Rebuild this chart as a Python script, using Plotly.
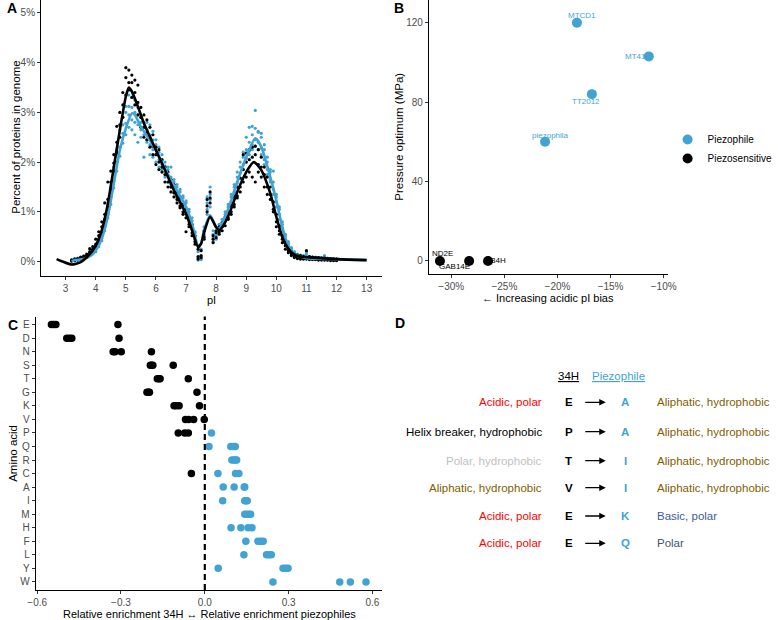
import plotly.graph_objects as go

FONT = "Liberation Sans, Arial, sans-serif"
BLUE = "#41A3D3"
W, H = 778, 620

# ---------------- Panel A data ----------------
pi_bins = [3.2, 3.3, 3.4, 3.5, 3.6, 3.7, 3.8, 3.9, 4.0, 4.1,
           4.2, 4.3, 4.4, 4.5, 4.6, 4.7, 4.8, 4.9, 5.0, 5.1,
           5.2, 5.3, 5.4, 5.5, 5.6, 5.7, 5.8, 5.9, 6.0, 6.1,
           6.2, 6.3, 6.4, 6.5, 6.6, 6.7, 6.8, 6.9, 7.0, 7.1,
           7.2, 7.3, 7.4, 7.5, 7.6, 7.7, 7.8, 7.9, 8.0, 8.1,
           8.2, 8.3, 8.4, 8.5, 8.6, 8.7, 8.8, 8.9, 9.0, 9.1,
           9.2, 9.3, 9.4, 9.5, 9.6, 9.7, 9.8, 9.9, 10.0, 10.1,
           10.2, 10.3, 10.4, 10.5, 10.6, 10.7, 10.8, 10.9, 11.0, 11.1,
           11.2, 11.3, 11.4, 11.5, 11.6, 11.7, 11.8, 11.9, 12.0]

# per-genome values in hundredths of a percent
sens_1 = [2, 3, 4, 7, 8, 12, 20, 25, 45, 60,
          80, 118, 160, 182, 215, 272, 300, 340, 390, 385,
          375, 365, 355, 310, 295, 285, 270, 255, 230, 225,
          205, 190, 180, 165, 155, 140, 130, 115, 105, 90,
          75, 52, 25, 22, 50, 125, 140, 45, 48, 55,
          70, 85, 98, 112, 130, 150, 168, 215, 218, 225,
          230, 232, 225, 210, 190, 170, 150, 120, 95, 72,
          52, 40, 28, 20, 15, 13, 12, 10, 22, 10,
          9, 8, 8, 7, 7, 6, 6, 5, 5]
sens_2 = [1, 2, 6, 5, 11, 9, 17, 30, 35, 52,
          70, 95, 125, 160, 198, 240, 275, 315, 370, 360,
          360, 340, 320, 290, 270, 260, 250, 232, 215, 200,
          190, 175, 160, 150, 138, 125, 112, 100, 88, 75,
          58, 40, 10, 12, 45, 112, 128, 38, 58, 60,
          62, 72, 88, 100, 115, 132, 150, 185, 200, 205,
          210, 215, 195, 190, 175, 150, 135, 105, 80, 62,
          45, 32, 22, 15, 10, 8, 7, 6, 8, 6,
          6, 5, 5, 5, 4, 4, 4, 3, 3]
sens_3 = [3, 5, 3, 9, 6, 15, 26, 20, 30, 45,
          58, 85, 110, 145, 182, 220, 250, 290, 335, 345,
          330, 315, 295, 270, 250, 245, 230, 215, 195, 185,
          180, 160, 150, 140, 130, 118, 108, 95, 60, 70,
          52, 35, 5, 8, 62, 100, 118, 52, 62, 70,
          78, 90, 85, 95, 110, 128, 140, 160, 170, 180,
          170, 160, 180, 170, 150, 135, 125, 100, 70, 55,
          38, 25, 18, 12, 8, 6, 5, 5, 5, 4,
          4, 4, 3, 3, 3, 3, 2, 2, 2]
piezo_1 = [3, 4, 7, 6, 9, 10, 14, 18, 25, 35,
           48, 70, 95, 128, 162, 200, 230, 258, 278, 295,
           310, 300, 275, 280, 270, 265, 255, 245, 235, 220,
           205, 192, 185, 170, 160, 150, 140, 128, 118, 100,
           82, 58, 20, 25, 55, 130, 150, 55, 45, 58,
           72, 88, 102, 120, 140, 158, 178, 195, 208, 222,
           235, 245, 240, 228, 205, 185, 165, 145, 120, 95,
           68, 45, 30, 20, 14, 11, 9, 8, 15, 8,
           7, 7, 6, 6, 5, 5, 5, 5, 4]
piezo_2 = [2, 6, 5, 8, 7, 12, 18, 22, 30, 42,
           55, 78, 105, 140, 178, 215, 250, 275, 300, 312,
           285, 280, 295, 265, 255, 245, 235, 225, 215, 205,
           195, 180, 170, 155, 148, 135, 125, 112, 100, 88,
           70, 45, 5, 10, 48, 118, 135, 40, 52, 62,
           80, 95, 110, 130, 150, 170, 190, 210, 225, 240,
           255, 268, 262, 250, 225, 200, 180, 160, 130, 105,
           75, 52, 36, 25, 18, 14, 12, 11, 10, 10,
           9, 8, 8, 7, 12, 6, 6, 6, 5]
piezo_3 = [1, 3, 4, 5, 6, 9, 13, 16, 20, 30,
           42, 62, 88, 115, 148, 182, 212, 238, 255, 270,
           265, 255, 240, 250, 210, 240, 215, 210, 200, 190,
           185, 170, 160, 150, 140, 130, 120, 108, 95, 80,
           65, 40, 3, 6, 70, 105, 125, 48, 60, 70,
           70, 85, 98, 115, 132, 150, 168, 185, 200, 215,
           225, 232, 225, 215, 195, 175, 160, 135, 110, 85,
           60, 40, 28, 18, 12, 9, 8, 7, 6, 5,
           5, 5, 4, 4, 4, 3, 3, 3, 3]
piezo_4 = [4, 5, 6, 7, 10, 11, 16, 20, 28, 38,
           52, 85, 112, 150, 190, 225, 265, 290, 312, 335,
           330, 325, 310, 290, 280, 280, 275, 262, 245, 230,
           215, 200, 190, 190, 165, 155, 145, 132, 122, 105,
           88, 60, 8, 4, 60, 95, 110, 62, 58, 75,
           85, 100, 115, 135, 155, 180, 200, 220, 250, 270,
           272, 304, 260, 258, 235, 210, 185, 182, 135, 110,
           80, 55, 40, 28, 20, 15, 13, 12, 20, 9,
           8, 9, 7, 8, 10, 7, 6, 6, 5]

# smoothed fits (percent)
sens_fit_x = [2.7, 2.9, 3.2, 3.5, 3.8, 4.0, 4.2, 4.4, 4.6, 4.8, 5.0, 5.1, 5.2, 5.4, 5.6, 5.8,
              6.0, 6.3, 6.6, 7.0, 7.2, 7.4, 7.5, 7.6, 7.8, 8.0, 8.1, 8.3, 8.5, 8.7, 9.0,
              9.25, 9.5, 9.8, 10.0, 10.2, 10.4, 10.6, 10.8, 11.0, 12.0, 13.0]
sens_fit_y = [0.05, 0.0, -0.06, -0.01, 0.15, 0.32, 0.63, 1.16, 1.9, 2.64, 3.32, 3.5, 3.42, 3.12, 2.78, 2.51,
              2.24, 1.84, 1.43, 0.96, 0.63, 0.29, 0.36, 0.59, 0.9, 0.69, 0.63, 0.79, 1.06, 1.4, 1.8,
              2.0, 1.84, 1.37, 0.9, 0.49, 0.26, 0.14, 0.1, 0.09, 0.05, 0.03]
piezo_fit_x = [3.2, 3.3, 3.6, 3.9, 4.0, 4.2, 4.4, 4.6, 4.8, 5.0, 5.2, 5.3, 5.5, 5.8, 6.0, 6.3, 6.6,
               7.0, 7.2, 7.4, 7.5, 7.6, 7.8, 8.0, 8.1, 8.3, 8.5, 8.7, 9.0, 9.3, 9.5, 9.8,
               10.0, 10.2, 10.4, 10.6, 10.8, 11.0, 12.0, 13.0]
piezo_fit_y = [0.0, 0.03, 0.05, 0.15, 0.22, 0.46, 0.9, 1.57, 2.24, 2.68, 2.98, 2.95, 2.71, 2.44, 2.24, 1.87, 1.53,
               1.1, 0.76, 0.32, 0.36, 0.63, 0.93, 0.69, 0.66, 0.9, 1.23, 1.6, 2.1, 2.48, 2.31, 1.7,
               1.23, 0.69, 0.32, 0.15, 0.1, 0.07, 0.05, 0.03]

pi_ticks = [3, 4, 5, 6, 7, 8, 9, 10, 11, 12, 13]
pct_ticks = [0, 1, 2, 3, 4, 5]
pct_labels = ["0%", "1%", "2%", "3%", "4%", "5%"]

# ---------------- Panel B data ----------------
strains = ["MTCD1", "MT41", "TT2012", "piezophila", "ND2E", "GAB14E", "34H"]
acidic_bias = [-18.17, -11.4, -16.76, -21.17, -31.07, -28.32, -26.54]
pressure_opt = [120, 103, 84, 60, 0, 0, 0]
strain_group = ["Piezophile"] * 4 + ["Piezosensitive"] * 3
bias_ticks = [-30, -25, -20, -15, -10]
bias_labels = ["\u221230%", "\u221225%", "\u221220%", "\u221215%", "\u221210%"]
press_ticks = [0, 40, 80, 120]

# ---------------- Panel C data ----------------
amino_acids = ["E", "D", "N", "S", "T", "G", "K", "V", "P", "Q",
               "R", "C", "A", "I", "M", "H", "F", "L", "Y", "W"]
enrichment = {
    "E": [-0.549, -0.541, -0.533, -0.311],
    "D": [-0.494, -0.485, -0.476, -0.307],
    "N": [-0.328, -0.321, -0.299, -0.191],
    "S": [-0.195, -0.190, -0.186, -0.113],
    "T": [-0.170, -0.164, -0.160, -0.059],
    "G": [-0.207, -0.201, -0.198, -0.028],
    "K": [-0.110, -0.103, -0.092, -0.019],
    "V": [-0.069, -0.058, -0.040, -0.002],
    "P": [-0.095, -0.072, -0.059, 0.024],
    "Q": [0.015, 0.093, 0.102, 0.109],
    "R": [0.097, 0.104, 0.110, 0.114],
    "C": [-0.048, 0.047, 0.110, 0.122],
    "A": [0.066, 0.105, 0.141, 0.143],
    "I": [0.064, 0.143, 0.148, 0.152],
    "M": [0.143, 0.150, 0.158, 0.164],
    "H": [0.094, 0.129, 0.155, 0.169],
    "F": [0.147, 0.190, 0.200, 0.209],
    "L": [0.140, 0.221, 0.230, 0.238],
    "Y": [0.048, 0.280, 0.290, 0.298],
    "W": [0.244, 0.483, 0.521, 0.577],
}
enr_ticks = [-0.6, -0.3, 0.0, 0.3, 0.6]
enr_labels = ["\u22120.6", "\u22120.3", "0.0", "0.3", "0.6"]

# ---------------- Panel D data ----------------
from_desc = ["Acidic, polar", "Helix breaker, hydrophobic", "Polar, hydrophobic",
             "Aliphatic, hydrophobic", "Acidic, polar", "Acidic, polar"]
from_color = ["#FF0000", "#000000", "#BFBFBF", "#7F6000", "#FF0000", "#FF0000"]
from_aa = ["E", "P", "T", "V", "E", "E"]
to_aa = ["A", "A", "I", "I", "K", "Q"]
to_desc = ["Aliphatic, hydrophobic", "Aliphatic, hydrophobic", "Aliphatic, hydrophobic",
           "Aliphatic, hydrophobic", "Basic, polar", "Polar"]
to_color = ["#7F6000", "#7F6000", "#7F6000", "#7F6000", "#3C5A9A", "#44546A"]

# ============================================================
def px(x):
    return x / W

def py(y):
    return 1 - y / H

fig = go.Figure()

def to_pct(v):
    return [a / 100 for a in v]

# Panel A
for vals in [piezo_1, piezo_2, piezo_3, piezo_4]:
    fig.add_trace(go.Scatter(x=pi_bins, y=to_pct(vals), mode="markers",
                             marker=dict(size=3.2, color=BLUE), showlegend=False,
                             hoverinfo="skip", xaxis="x", yaxis="y"))
for vals in [sens_1, sens_2, sens_3]:
    fig.add_trace(go.Scatter(x=pi_bins, y=to_pct(vals), mode="markers",
                             marker=dict(size=3.2, color="black"), showlegend=False,
                             hoverinfo="skip", xaxis="x", yaxis="y"))
fig.add_trace(go.Scatter(x=piezo_fit_x, y=piezo_fit_y, mode="lines",
                         line=dict(color=BLUE, width=2.6, shape="spline", smoothing=0.6),
                         showlegend=False, xaxis="x", yaxis="y"))
fig.add_trace(go.Scatter(x=sens_fit_x, y=sens_fit_y, mode="lines",
                         line=dict(color="black", width=2.6, shape="spline", smoothing=0.6),
                         showlegend=False, xaxis="x", yaxis="y"))

# Panel B
for grp, col in [("Piezophile", BLUE), ("Piezosensitive", "black")]:
    xs = [a for a, g in zip(acidic_bias, strain_group) if g == grp]
    ys = [p for p, g in zip(pressure_opt, strain_group) if g == grp]
    fig.add_trace(go.Scatter(x=xs, y=ys, mode="markers", name=grp,
                             marker=dict(size=10, color=col), xaxis="x2", yaxis="y2"))

label_shift = {"MTCD1": (5, 7), "MT41": (-13, 0), "TT2012": (-5.5, -7.5), "piezophila": (5, 6),
               "ND2E": (3, 7), "GAB14E": (-15, -6), "34H": (10.5, 0)}
annotations = []
for s, a, p, g in zip(strains, acidic_bias, pressure_opt, strain_group):
    dx, dy = label_shift[s]
    annotations.append(dict(x=a, y=p, xref="x2", yref="y2", text=s, showarrow=False,
                            xshift=dx, yshift=dy,
                            font=dict(size=8, family=FONT, color=BLUE if g == "Piezophile" else "black")))

# Panel C
neg_x, neg_y, pos_x, pos_y = [], [], [], []
for i, aa in enumerate(amino_acids):
    for v in enrichment[aa]:
        if v < 0:
            neg_x.append(v); neg_y.append(i)
        else:
            pos_x.append(v); pos_y.append(i)
fig.add_trace(go.Scatter(x=neg_x, y=neg_y, mode="markers", marker=dict(size=7.5, color="black"),
                         showlegend=False, xaxis="x3", yaxis="y3"))
fig.add_trace(go.Scatter(x=pos_x, y=pos_y, mode="markers", marker=dict(size=7.5, color=BLUE),
                         showlegend=False, xaxis="x3", yaxis="y3"))

shapes = [dict(type="line", xref="x3", yref="y3 domain", x0=0, x1=0, y0=0, y1=1,
               line=dict(color="black", width=2.2, dash="6px,4px"))]

# Axis styling
ax = dict(showline=True, linecolor="black", linewidth=1.1, ticks="outside", ticklen=3,
          tickcolor="#333333", tickwidth=1, showgrid=False, zeroline=False,
          tickfont=dict(size=10, color="#4D4D4D", family=FONT))

layout_axes = dict(
    xaxis=dict(domain=[px(34), px(384)], range=[2.185, 13.515], anchor="y",
               tickvals=pi_ticks, **ax),
    yaxis=dict(domain=[py(276), 1], range=[-0.29, 5.26], anchor="x",
               tickvals=pct_ticks, ticktext=pct_labels, **ax),
    xaxis2=dict(domain=[px(432), px(677)], range=[-32.11, -9.63], anchor="y2",
                tickvals=bias_ticks, ticktext=bias_labels, **ax),
    yaxis2=dict(domain=[py(274), 1], range=[-6.55, 131.4], anchor="x2",
                tickvals=press_ticks, **ax),
    xaxis3=dict(domain=[px(28.5), px(383.5)], range=[-0.605, 0.633], anchor="y3",
                tickvals=enr_ticks, ticktext=enr_labels, **ax),
    yaxis3=dict(domain=[py(590), py(316.5)], range=[19.6, -0.6], anchor="x3",
                tickvals=list(range(len(amino_acids))), ticktext=amino_acids, **ax),
)

def ann(x, y, text, size=11.5, color="black", xanchor="center", angle=0, bold=False, **kw):
    t = f"<b>{text}</b>" if bold else text
    d = dict(x=px(x), y=py(y), xref="paper", yref="paper", text=t, showarrow=False,
             xanchor=xanchor, yanchor="middle", textangle=angle,
             font=dict(size=size, color=color, family=FONT, **kw))
    return d

# Axis titles
annotations += [
    ann(209, 300.5, "pI", size=11),
    ann(8, 137, "Percent of proteins in genome", angle=-90),
    ann(401, 137, "Pressure optimum (MPa)", angle=-90),
    ann(554, 298, "\u2190 Increasing acidic pI bias", size=11),
    ann(5, 453, "Amino acid", angle=-90),
    ann(207, 613.5, "Relative enrichment 34H \u2194 Relative enrichment piezophiles", size=11),
]
# Panel letters
annotations += [
    ann(4, 8, "A", size=14, bold=True),
    ann(401, 8, "B", size=14, bold=True),
    ann(5, 324.5, "C", size=14, bold=True),
    ann(402, 323, "D", size=14, bold=True),
]

# Panel D table
annotations += [
    ann(575.3, 375.7, "34H", size=11.5, lineposition="under"),
    ann(626.7, 375.7, "Piezophile", size=11.5, color=BLUE, lineposition="under"),
]
row_y = [402.3, 431.7, 460.7, 487.7, 516.0, 543.3]
for ry, ld, lc, fa, ta, rd, rc in zip(row_y, from_desc, from_color, from_aa, to_aa, to_desc, to_color):
    annotations.append(ann(550, ry, ld, color=lc, xanchor="right"))
    annotations.append(ann(575.3, ry, fa, bold=True))
    annotations.append(ann(633.7, ry, ta, color=BLUE, bold=True))
    annotations.append(ann(664, ry, rd, color=rc, xanchor="left"))
    annotations.append(dict(x=px(613.5), y=py(ry), xref="paper", yref="paper", text="",
                            showarrow=True, ax=-22, ay=0, arrowhead=2, arrowsize=1,
                            arrowwidth=1.3, arrowcolor="black", standoff=0, startstandoff=0))

fig.update_layout(
    width=W, height=H, margin=dict(l=0, r=0, t=0, b=0),
    paper_bgcolor="white", plot_bgcolor="white",
    font=dict(family=FONT),
    showlegend=True,
    legend=dict(x=px(677), y=py(125), xanchor="left", yanchor="top",
                font=dict(size=10, family=FONT, color="black"), bgcolor="rgba(0,0,0,0)",
                itemsizing="trace"),
    annotations=annotations, shapes=shapes,
    **layout_axes,
)

fig.write_html("out.html", config={"displayModeBar": False},
               post_script="document.body.style.margin='0';document.body.style.padding='0';document.body.style.overflow='hidden';")
